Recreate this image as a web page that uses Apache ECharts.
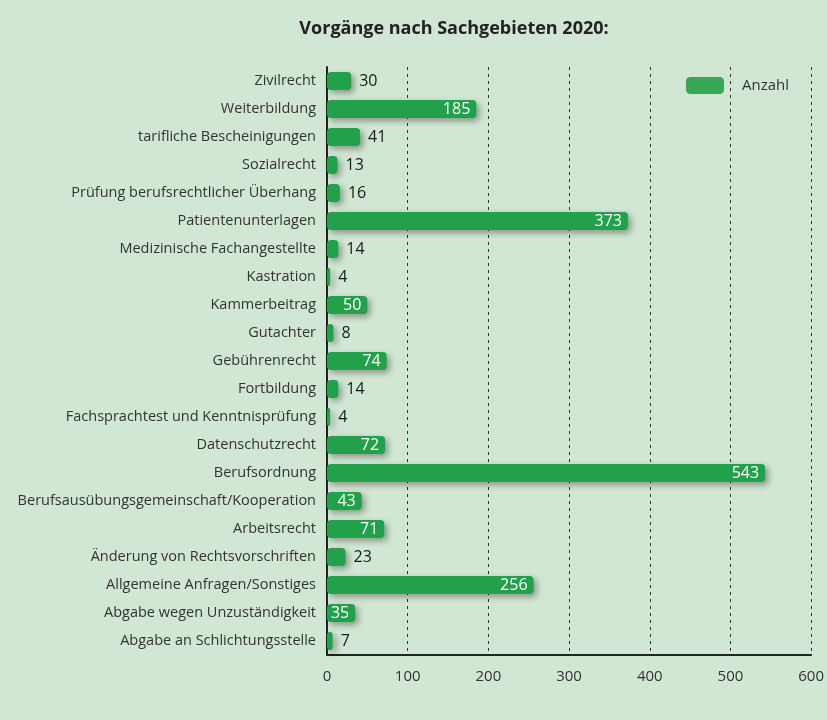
<!DOCTYPE html>
<html style="height: 100%">
<head>
    <meta charset="utf-8">
</head>
<body style="height: 100%; margin: 0; background: #d1e6d3">
<div id="chart_container" style="height: 720px; width: 827px"></div>
<script src="https://cdn.jsdelivr.net/npm/echarts@6/dist/echarts.min.js"></script>
<script type="text/javascript">

    var categories = [
        'Zivilrecht', 'Weiterbildung', 'tarifliche Bescheinigungen', 'Sozialrecht',
        'Prüfung berufsrechtlicher Überhang', 'Patientenunterlagen', 'Medizinische Fachangestellte',
        'Kastration', 'Kammerbeitrag', 'Gutachter', 'Gebührenrecht', 'Fortbildung',
        'Fachsprachtest und Kenntnisprüfung', 'Datenschutzrecht', 'Berufsordnung',
        'Berufsausübungsgemeinschaft/Kooperation', 'Arbeitsrecht', 'Änderung von Rechtsvorschriften',
        'Allgemeine Anfragen/Sonstiges', 'Abgabe wegen Unzuständigkeit', 'Abgabe an Schlichtungsstelle'
    ];
    var anzahl = [30, 185, 41, 13, 16, 373, 14, 4, 50, 8, 74, 14, 4, 72, 543, 43, 71, 23, 256, 35, 7];
    var xTicks = [0, 100, 200, 300, 400, 500, 600];

    // bars whose number sits inside the bar (white)
    var insideIdx = [1, 5, 8, 10, 13, 14, 15, 16, 18, 19];

    var fontName = '"Open Sans", "Noto Sans", sans-serif';

    var barData = anzahl.map(function (v, i) {
        var inside = insideIdx.indexOf(i) >= 0;
        return {
            value: v,
            label: inside
                ? {position: 'insideRight', color: '#ffffff', distance: 6}
                : {position: 'right', color: '#1a1a1a', distance: 8}
        };
    });

    var option = {
        backgroundColor: '#d1e6d3',
        textStyle: {fontFamily: fontName},
        title: {
            text: 'Vorgänge nach Sachgebieten 2020:',
            left: 449,
            textAlign: 'center',
            top: 15,
            textStyle: {fontSize: 18, fontWeight: 'bold', color: '#222222', fontFamily: fontName}
        },
        legend: {
            data: ['Anzahl'],
            left: 681,
            top: 72,
            itemWidth: 38,
            itemHeight: 17,
            itemGap: 10,
            icon: 'roundRect',
            itemStyle: {color: '#38a657', shadowBlur: 0},
            textStyle: {fontSize: 15, color: '#333333', fontFamily: fontName, padding: [0, 0, 0, 13]}
        },
        grid: {
            left: 327,
            right: 12,
            top: 67,
            bottom: 65,
            containLabel: false
        },
        xAxis: {
            type: 'value',
            min: xTicks[0],
            max: xTicks[xTicks.length - 1],
            interval: 100,
            axisLine: {show: true, lineStyle: {color: '#222222', width: 2}},
            axisTick: {show: false},
            axisLabel: {fontSize: 15, color: '#333333', margin: 14, fontFamily: fontName},
            splitLine: {
                show: true,
                showMinLine: false,
                lineStyle: {color: '#333333', width: 1, type: [3, 4]}
            }
        },
        yAxis: {
            type: 'category',
            data: categories,
            inverse: true,
            axisLine: {show: true, lineStyle: {color: '#222222', width: 2}},
            axisTick: {show: false},
            axisLabel: {fontSize: 14.5, color: '#333333', margin: 11, fontFamily: fontName}
        },
        series: [
            {
                name: 'Anzahl',
                type: 'bar',
                data: barData,
                barCategoryGap: '36%',
                itemStyle: {
                    color: '#22a14b',
                    borderRadius: 4,
                    shadowColor: 'rgba(0, 0, 0, 0.35)',
                    shadowBlur: 6,
                    shadowOffsetX: 3,
                    shadowOffsetY: 3
                },
                label: {show: true, fontSize: 16, fontFamily: fontName}
            }
        ]
    };

    var chart = echarts.init(document.getElementById('chart_container'));
    chart.setOption(option);
</script>
</body>
</html>
